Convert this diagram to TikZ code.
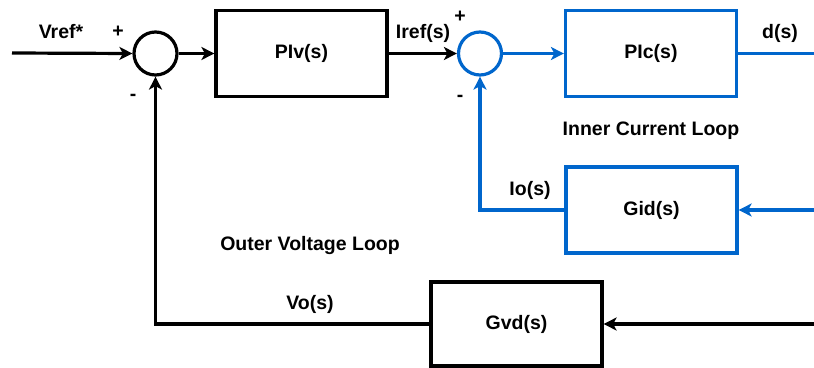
\documentclass[tikz,border=0pt]{standalone}
\usepackage{fontspec}
\setmainfont{Liberation Sans}
\usetikzlibrary{arrows.meta,positioning}
\definecolor{loopblue}{RGB}{0,102,204}
\tikzset{
  ln/.style={line width=3.2pt},
  arr/.style={ln,-{Stealth[length=13pt,width=13pt,inset=3.5pt]}},
  blk/.style={draw,ln,minimum width=171pt,minimum height=86pt,inner sep=0pt,font=\bfseries\fontsize{19.5}{22}\selectfont},
  sumc/.style={draw,ln,circle,minimum size=43pt,inner sep=0pt},
  lbl/.style={font=\bfseries\fontsize{19.5}{22}\selectfont,inner sep=0pt}
}
\begin{document}
\begin{tikzpicture}[x=1pt,y=-1pt]
\useasboundingbox (0,0) rectangle (814,367);
% nodes
\coordinate (in) at (12,53);
\node[sumc] (s1) at (155.5,53.5) {};
\node[blk] (piv) at (301.5,53.5) {PIv(s)};
\node[sumc,draw=loopblue] (s2) at (480,53.5) {};
\node[blk,draw=loopblue] (pic) at (651,53.5) {PIc(s)};
\coordinate (dout) at (814,53.5);
\node[blk,draw=loopblue] (gid) at (651.5,210) {Gid(s)};
\coordinate (gidin) at (814,210);
\node[blk,minimum height=84pt] (gvd) at (516.5,324) {Gvd(s)};
\coordinate (gvdin) at (814,324);
% labels
\node[lbl] (lvref) at (61,32) {Vref*};
\node[lbl] (p1) at (118,32) {+};
\node[lbl] (m1) at (133,97) {-};
\node[lbl] (liref) at (423,33) {Iref(s)};
\node[lbl] (p2) at (460,17) {+};
\node[lbl] (m2) at (460,98) {-};
\node[lbl] (ld) at (780,33) {d(s)};
\node[lbl] (lio) at (530,190) {Io(s)};
\node[lbl] (lvo) at (310,304) {Vo(s)};
\node[lbl] (linner) at (651,131) {Inner Current Loop};
\node[lbl] (louter) at (310,245) {Outer Voltage Loop};
% connectors
\draw[arr] (in) -- (s1.west);
\draw[arr] (s1.east) -- (piv.west);
\draw[arr] (piv.east) -- (s2.west);
\draw[arr,loopblue] (s2.east) -- (pic.west);
\draw[ln,loopblue] (pic.east) -- (dout);
\draw[arr,loopblue] (gidin) -- (gid.east);
\draw[arr,loopblue] (gid.west) -| (s2.south);
\draw[arr] (gvdin) -- (gvd.east);
\draw[arr] (gvd.west) -| (s1.south);
\end{tikzpicture}
\end{document}
